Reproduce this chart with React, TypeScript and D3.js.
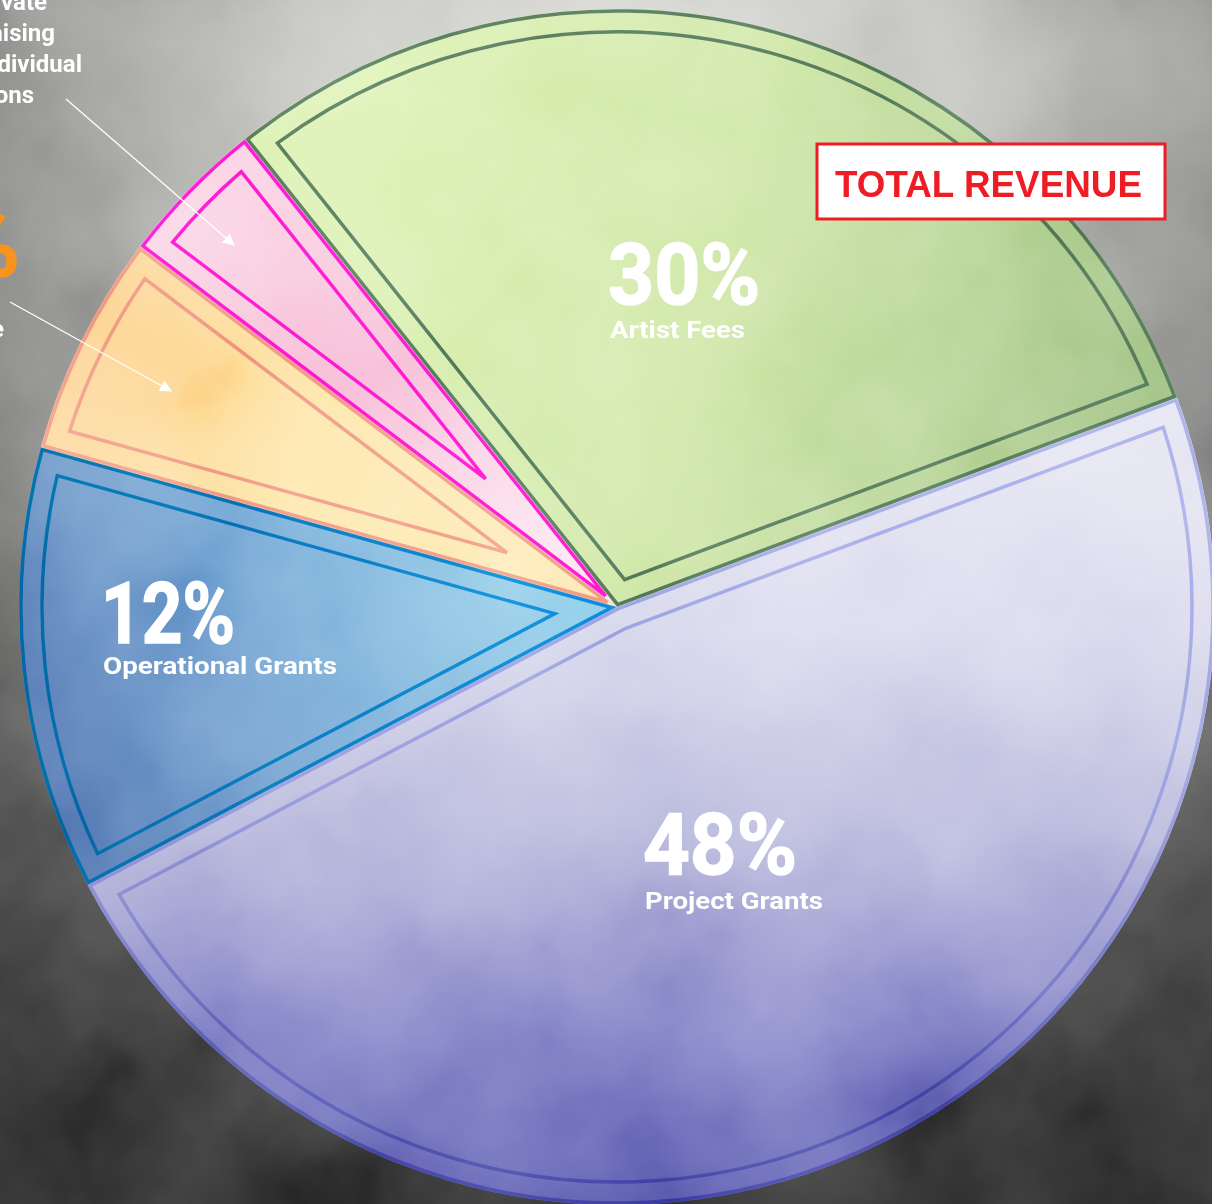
import { useEffect } from 'react'
import * as d3 from 'd3'

// revenue split
const categories = ['Artist Fees', 'Project Grants', 'Operational Grants', 'Earned Revenue', 'Private Fundraising & Individual Donations']
const values = [30, 48, 12, 6, 4]
const percentLabels = ['30%', '48%', '12%', '6%', '4%']
const pinkLabelLines = ['Private', 'Fundraising', 'Individual', 'Donations']

const W = 1212
const H = 1204
const cx = 617
const cy = 607
const R = 598
const startDeg = -38.5

const fills = ['url(#gGreen)', 'url(#gPurple)', 'url(#gBlue)', 'url(#gOrange)', 'url(#gPink)']
const strokes = ['#476e4d', 'url(#gPurpleStroke)', 'url(#gBlueStroke)', '#ef927c', '#ff10cc']

// label placement inside slices (x, baseline of big number, baseline of name, widths)
const labelLayout = [
  { x: 608, y: 304, w: 152, ny: 338, nw: 135 },
  { x: 643, y: 874, w: 154, ny: 909, nw: 178 },
  { x: 101, y: 643, w: 134, ny: 674, nw: 234 },
]

// inset sector: edges offset by d, outer arc at R - d
function insetSlice(a0: number, a1: number, r: number, d: number) {
  const p = d3.path()
  const h = (a1 - a0) / 2
  const m = (a0 + a1) / 2
  const v = d === 0 ? 0 : d / Math.sin(h)
  const rho = r - d
  const off = Math.asin(d / rho)
  const e0 = a0 + off
  const e1 = a1 - off
  p.moveTo(v * Math.sin(m), -v * Math.cos(m))
  p.lineTo(rho * Math.sin(e0), -rho * Math.cos(e0))
  p.arc(0, 0, rho, e0 - Math.PI / 2, e1 - Math.PI / 2)
  p.closePath()
  return p.toString()
}

export default function App() {
  useEffect(() => {
    document.body.style.margin = '0'
  }, [])

  const start = (startDeg * Math.PI) / 180
  const pie = d3.pie<number>().sort(null).value(d => d).startAngle(start).endAngle(start + 2 * Math.PI)
  const arcs = pie(values)
  const arcGen = d3.arc<d3.PieArcDatum<number>>().innerRadius(0).outerRadius(R)

  return (
    <svg width={W} height={H} style={{ position: 'absolute', left: 0, top: 0, display: 'block' }}>
      <defs>
        <radialGradient id="bg" gradientUnits="userSpaceOnUse" cx={620} cy={120} r={1120}>
          <stop offset="0" stopColor="#dededa" />
          <stop offset="0.3" stopColor="#bcbcb8" />
          <stop offset="0.6" stopColor="#7a7a78" />
          <stop offset="0.85" stopColor="#3c3c3c" />
          <stop offset="1" stopColor="#242424" />
        </radialGradient>
        <linearGradient id="gGreen" gradientUnits="userSpaceOnUse" x1={-300} y1={-300} x2={520} y2={-100}>
          <stop offset="0" stopColor="#d9f0ad" />
          <stop offset="0.45" stopColor="#cbe5a0" />
          <stop offset="1" stopColor="#9abd7d" />
        </linearGradient>
        <linearGradient id="gPurple" gradientUnits="userSpaceOnUse" x1={0} y1={-220} x2={0} y2={598}>
          <stop offset="0" stopColor="#e6e6f3" />
          <stop offset="0.3" stopColor="#d6d6ec" />
          <stop offset="0.55" stopColor="#b2b2d9" />
          <stop offset="0.8" stopColor="#7676c0" />
          <stop offset="1" stopColor="#5252aa" />
        </linearGradient>
        <linearGradient id="gPurpleStroke" gradientUnits="userSpaceOnUse" x1={0} y1={-220} x2={0} y2={598}>
          <stop offset="0" stopColor="#a2aaea" />
          <stop offset="0.5" stopColor="#8c92d8" />
          <stop offset="1" stopColor="#30309a" />
        </linearGradient>
        <linearGradient id="gBlue" gradientUnits="userSpaceOnUse" x1={-40} y1={0} x2={-560} y2={220}>
          <stop offset="0" stopColor="#8ecde9" />
          <stop offset="0.5" stopColor="#70a4d3" />
          <stop offset="1" stopColor="#476cab" />
        </linearGradient>
        <linearGradient id="gBlueStroke" gradientUnits="userSpaceOnUse" x1={0} y1={0} x2={-590} y2={0}>
          <stop offset="0" stopColor="#0a84e0" />
          <stop offset="1" stopColor="#005597" />
        </linearGradient>
        <linearGradient id="gOrange" gradientUnits="userSpaceOnUse" x1={-560} y1={-200} x2={-100} y2={-20}>
          <stop offset="0" stopColor="#fdd290" />
          <stop offset="0.5" stopColor="#fee5a6" />
          <stop offset="1" stopColor="#fde8b0" />
        </linearGradient>
        <linearGradient id="gPink" gradientUnits="userSpaceOnUse" x1={-380} y1={-440} x2={-60} y2={-60}>
          <stop offset="0" stopColor="#fad0e2" />
          <stop offset="0.5" stopColor="#f6b9d4" />
          <stop offset="1" stopColor="#fde2ee" />
        </linearGradient>
        <filter id="clouds" x="0" y="0" width="100%" height="100%">
          <feTurbulence type="fractalNoise" baseFrequency="0.007" numOctaves={4} seed={7} />
          <feColorMatrix type="matrix" values="0.4 0.4 0.4 0 -0.1  0.4 0.4 0.4 0 -0.1  0.4 0.4 0.4 0 -0.1  0 0 0 0 1" />
          <feComponentTransfer>
            <feFuncR type="linear" slope={1.6} intercept={-0.2} />
            <feFuncG type="linear" slope={1.6} intercept={-0.2} />
            <feFuncB type="linear" slope={1.6} intercept={-0.2} />
          </feComponentTransfer>
        </filter>
        <marker id="arrowHead" viewBox="0 0 10 10" refX={9} refY={5} markerWidth={16} markerHeight={12} markerUnits="userSpaceOnUse" orient="auto">
          <path d="M0,0L10,5L0,10Z" fill="#ffffff" />
        </marker>
      </defs>

      <rect width={W} height={H} fill="url(#bg)" />

      <g transform={`translate(${cx},${cy})`}>
        {arcs.map((a, i) => (
          <path key={`f${i}`} d={arcGen(a) || ''} fill={fills[i]} />
        ))}
        {arcs.map((a, i) => (
          <path key={`o${i}`} d={insetSlice(a.startAngle, a.endAngle, R, 2)} fill="none" stroke={strokes[i]} strokeWidth={3.5} strokeLinejoin="miter" />
        ))}
        {arcs.map((a, i) => (
          <path key={`i${i}`} d={insetSlice(a.startAngle, a.endAngle, R, 23)} fill="none" stroke={strokes[i]} strokeWidth={3.5} strokeLinejoin="miter" />
        ))}
      </g>

      <rect width={W} height={H} fill="#fff" filter="url(#clouds)" opacity={0.6} style={{ mixBlendMode: 'soft-light' }} />

      {labelLayout.map((l, i) => (
        <g key={`l${i}`} fill="#ffffff" fontFamily="Roboto, 'DejaVu Sans', sans-serif" fontWeight={700}>
          <text x={l.x} y={l.y} fontSize={86} stroke="#ffffff" strokeWidth={1.6} textLength={l.w} lengthAdjust="spacingAndGlyphs">{percentLabels[i]}</text>
          <text x={l.x + 2} y={l.ny} fontSize={24} textLength={l.nw} lengthAdjust="spacingAndGlyphs">{categories[i]}</text>
        </g>
      ))}

      {/* labels for the two thin slices sit off the left edge */}
      <text x={20} y={276} fill="#f7931e" stroke="#f7931e" strokeWidth={1.6} fontFamily="Roboto, sans-serif" fontWeight={700} fontSize={96} textAnchor="end">{percentLabels[3]}</text>
      <text x={4} y={337} fill="#ffffff" fontFamily="Roboto, sans-serif" fontWeight={700} fontSize={24} textAnchor="end">{categories[3]}</text>
      {pinkLabelLines.map((t, i) => (
        <text key={t} x={[47, 55, 82, 34][i]} y={10 + i * 31} fill="#ffffff" fontFamily="Roboto, sans-serif" fontWeight={700} fontSize={24} textAnchor="end">{t}</text>
      ))}

      <line x1={66} y1={99} x2={234} y2={245} stroke="#ffffff" strokeWidth={1.3} markerEnd="url(#arrowHead)" />
      <line x1={10} y1={302} x2={171} y2={391} stroke="#ffffff" strokeWidth={1.3} markerEnd="url(#arrowHead)" />

      <rect x={817} y={144} width={348} height={75} fill="#ffffff" stroke="#ee1d25" strokeWidth={3} />
      <text x={835} y={197} fill="#ee1d25" fontFamily="'Liberation Sans', Arial, sans-serif" fontWeight={700} fontSize={37} textLength={307} lengthAdjust="spacingAndGlyphs">TOTAL REVENUE</text>
    </svg>
  )
}
